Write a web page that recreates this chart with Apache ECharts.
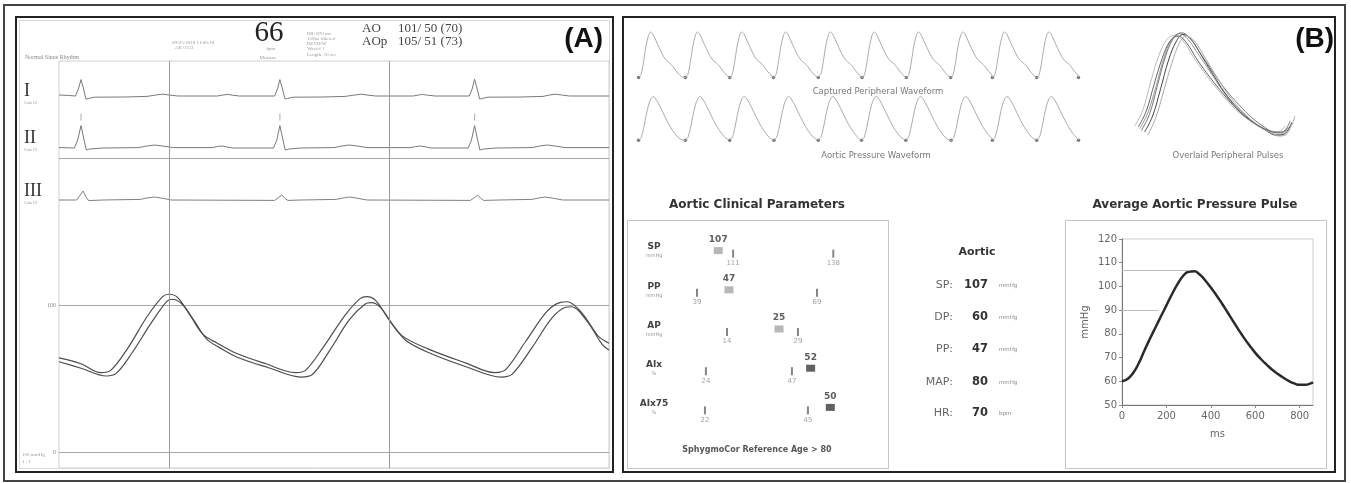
<!DOCTYPE html>
<html>
<head>
<meta charset="utf-8">
<title>Aortic pressure report</title>
<script src="https://cdn.jsdelivr.net/npm/echarts/dist/echarts.min.js"></script>
<style>
    html, body { margin: 0; padding: 0; background: #fff; }
    #report { width: 1351px; height: 483px; }
</style>
</head>
<body>
<div id="report"></div>
<script>
    // ---- panel A: ECG leads, [time s, mV] ----
    var leadI = [[0, 0.05], [0.04, 0.03], [0.075, 0], [0.088, 0.35], [0.1, 0.82], [0.112, 0.35], [0.122, -0.15], [0.135, -0.12], [0.16, -0.06], [0.3, -0.05], [0.4, -0.02], [0.44, 0.05], [0.47, 0.09], [0.5, 0.05], [0.54, 0], [0.72, 0], [0.745, 0.05], [0.767, 0.08], [0.79, 0.04], [0.82, 0], [0.98, 0], [0.993, 0.35], [1.004, 0.82], [1.016, 0.35], [1.027, -0.15], [1.04, -0.12], [1.065, -0.06], [1.2, -0.05], [1.3, -0.02], [1.345, 0.05], [1.373, 0.09], [1.4, 0.05], [1.44, 0], [1.61, 0], [1.635, 0.05], [1.652, 0.08], [1.675, 0.04], [1.71, 0], [1.865, 0], [1.878, 0.35], [1.889, 0.84], [1.901, 0.35], [1.912, -0.15], [1.925, -0.12], [1.95, -0.06], [2.1, -0.05], [2.2, -0.02], [2.23, 0.05], [2.256, 0.09], [2.285, 0.05], [2.32, 0], [2.5, 0]];
    var leadII = [[0, 0.02], [0.07, 0], [0.085, 0.4], [0.1, 1.12], [0.114, 0.4], [0.124, -0.1], [0.14, -0.05], [0.2, 0], [0.36, 0.02], [0.4, 0.1], [0.434, 0.15], [0.47, 0.1], [0.52, 0.02], [0.7, 0.02], [0.72, 0.08], [0.74, 0.1], [0.76, 0.06], [0.79, 0], [0.975, 0], [0.99, 0.4], [1.004, 1.12], [1.018, 0.4], [1.028, -0.1], [1.045, -0.05], [1.1, 0], [1.25, 0.02], [1.285, 0.1], [1.318, 0.15], [1.355, 0.1], [1.4, 0.02], [1.6, 0.02], [1.62, 0.07], [1.643, 0.1], [1.665, 0.06], [1.69, 0], [1.86, 0], [1.875, 0.4], [1.889, 1.12], [1.903, 0.4], [1.913, -0.1], [1.93, -0.05], [1.99, 0], [2.15, 0.02], [2.185, 0.1], [2.22, 0.15], [2.255, 0.1], [2.3, 0.02], [2.5, 0.02]];
    var leadIII = [[0, 0], [0.08, 0], [0.095, 0.22], [0.109, 0.45], [0.123, 0.15], [0.135, -0.03], [0.2, 0], [0.37, 0.03], [0.4, 0.1], [0.434, 0.15], [0.47, 0.09], [0.51, 0], [0.98, -0.02], [0.998, 0.12], [1.013, 0.25], [1.027, 0.08], [1.04, -0.02], [1.1, 0], [1.26, 0.03], [1.29, 0.1], [1.32, 0.15], [1.355, 0.09], [1.4, 0], [1.87, -0.02], [1.888, 0.12], [1.903, 0.25], [1.917, 0.08], [1.93, -0.02], [2.0, 0], [2.15, 0.03], [2.18, 0.1], [2.21, 0.15], [2.245, 0.09], [2.29, 0], [2.5, 0]];
    var rPeakTimes = [0.1, 1.004, 1.889];
    var ecgGridTimes = [0.5, 1.5];

    // ---- panel A: pressure traces, [time s, mmHg] ----
    var aoPressure = [[0, 61.4], [0.1, 57], [0.215, 51.7], [0.26, 53.5], [0.33, 67], [0.42, 88], [0.49, 102.5], [0.515, 103.9], [0.56, 100.5], [0.62, 88], [0.67, 77], [0.73, 71], [0.81, 64.5], [0.95, 57.5], [1.1, 51], [1.15, 52.5], [1.23, 69], [1.32, 90], [1.39, 100.5], [1.42, 101.6], [1.46, 98.5], [1.52, 86], [1.58, 75.5], [1.69, 67], [1.86, 57.5], [2.01, 51], [2.06, 53], [2.15, 71], [2.24, 91], [2.3, 98.3], [2.33, 98.8], [2.4, 89], [2.47, 73], [2.5, 69.4]];
    var aopPressure = [[0, 64], [0.1, 60], [0.19, 54], [0.235, 55.5], [0.31, 70], [0.4, 92], [0.47, 105.5], [0.5, 107.3], [0.54, 105], [0.6, 92], [0.655, 80], [0.72, 74], [0.8, 67.5], [0.94, 60], [1.075, 54], [1.12, 55.5], [1.2, 71], [1.3, 93], [1.37, 104.5], [1.4, 105.7], [1.44, 103], [1.5, 90], [1.56, 79], [1.68, 70], [1.85, 60.5], [1.98, 54], [2.03, 56], [2.12, 75], [2.22, 96], [2.28, 101.8], [2.31, 102.2], [2.38, 94], [2.45, 79], [2.5, 74]];

    // ---- panel B: captured waveforms, beat shape [offset s, mmHg] and beat feet [s] ----
    var peripheralBeat = [[0, 58], [0.05, 62], [0.1, 78], [0.15, 98], [0.2, 111], [0.24, 115], [0.28, 113], [0.34, 105], [0.42, 94], [0.5, 84], [0.56, 79], [0.62, 76], [0.68, 72], [0.75, 66], [0.82, 61], [0.88, 58.5], [0.95, 58]];
    var peripheralFeet = [0.17, 1.1, 1.98, 2.85, 3.74, 4.61, 5.49, 6.37, 7.2, 8.08, 8.91];
    var aorticBeat = [[0, 59], [0.05, 62], [0.1, 72], [0.15, 86], [0.2, 98], [0.25, 105], [0.29, 107], [0.33, 105.5], [0.4, 99], [0.48, 90], [0.56, 81], [0.64, 73], [0.72, 66.5], [0.8, 61.5], [0.87, 59.5], [0.95, 59]];
    var aorticFeet = [0.17, 1.1, 1.98, 2.86, 3.74, 4.6, 5.48, 6.38, 7.2, 8.08, 8.91];
    var overlaidPulses = [
        [[0.03, 62], [0.08, 72], [0.13, 88], [0.18, 106], [0.23, 118], [0.28, 121.5], [0.33, 118], [0.4, 108], [0.48, 96], [0.56, 84], [0.64, 74], [0.72, 67], [0.8, 62], [0.86, 59], [0.91, 58.5], [0.96, 63]],
        [[0.06, 60], [0.11, 70], [0.16, 87], [0.21, 105], [0.26, 117], [0.3, 121], [0.35, 118], [0.42, 107], [0.5, 94], [0.58, 82], [0.66, 73], [0.74, 66], [0.82, 61], [0.88, 58], [0.93, 58.5], [0.98, 66]],
        [[0, 64], [0.05, 74], [0.1, 92], [0.15, 108], [0.2, 118], [0.25, 120.5], [0.3, 117], [0.37, 106], [0.45, 95], [0.53, 85], [0.61, 76], [0.69, 69], [0.77, 64], [0.84, 61], [0.89, 60], [0.94, 64]],
        [[0.04, 61], [0.09, 71], [0.14, 89], [0.19, 107], [0.24, 118.5], [0.29, 122], [0.34, 119], [0.41, 109], [0.49, 97], [0.57, 86], [0.65, 77], [0.73, 69], [0.81, 63], [0.87, 60], [0.92, 60], [0.97, 67]],
        [[0.08, 58], [0.13, 69], [0.18, 86], [0.23, 103], [0.28, 116], [0.32, 120], [0.37, 117], [0.44, 106], [0.52, 93], [0.6, 81], [0.68, 72], [0.76, 65], [0.84, 60], [0.9, 57.5], [0.95, 59], [1.0, 70]],
        [[0.02, 63], [0.07, 73], [0.12, 90], [0.17, 106], [0.22, 117], [0.27, 120], [0.32, 116], [0.39, 105], [0.47, 94], [0.55, 84], [0.63, 75], [0.71, 68], [0.79, 63], [0.86, 60], [0.91, 59.5], [0.95, 62]]
    ];

    // ---- panel B: clinical parameters ----
    var paramNames = ['SP', 'PP', 'AP', 'AIx', 'AIx75'];
    var paramUnits = ['mmHg', 'mmHg', 'mmHg', '%', '%'];
    var patientValues = [107, 47, 25, 52, 50];
    var refLow = [111, 39, 14, 24, 22];
    var refHigh = [138, 69, 29, 47, 45];

    var aorticLabels = ['SP:', 'DP:', 'PP:', 'MAP:', 'HR:'];
    var aorticValues = [107, 60, 47, 80, 70];
    var aorticUnits = ['mmHg', 'mmHg', 'mmHg', 'mmHg', 'bpm'];

    // ---- panel B: average aortic pressure pulse ----
    var pulseMs = [0, 25, 50, 75, 100, 125, 150, 175, 200, 225, 250, 275, 300, 325, 350, 375, 400, 425, 450, 475, 500, 525, 550, 575, 600, 625, 650, 675, 700, 725, 750, 775, 800, 825, 850, 860];
    var pulseMmHg = [60, 61, 63.5, 67.5, 72.8, 77.8, 82.6, 87.3, 92, 96.7, 101, 104.4, 106.2, 106.4, 105, 102.5, 99.5, 96.3, 92.8, 89.1, 85.4, 81.7, 78.2, 75, 72, 69.4, 67.1, 65, 63.2, 61.6, 60.2, 59.1, 58.5, 58.5, 59.1, 59.6];
    var pulseGuides = [[305, 107], [165, 90]];

    var sans = 'DejaVu Sans';
    var serif = 'Liberation Serif';

    function beatTrace (beat, feet) {
        var out = [];
        for (var i = 0; i < feet.length - 1; i++) {
            var span = feet[i + 1] - feet[i];
            beat.forEach(function (p) {
                if (p[0] < span) out.push([feet[i] + p[0], p[1]]);
            });
        }
        out.push([feet[feet.length - 1], beat[0][1]]);
        return out;
    }

    function txt (x, y, text, size, color, align, weight, family) {
        return {
            type: 'text', x: x, y: y, silent: true, z: 20,
            style: {
                text: text, fill: color, fontSize: size,
                fontWeight: weight || 'normal', fontFamily: family || sans,
                align: align || 'left', textAlign: align || 'left',
                verticalAlign: 'middle', textVerticalAlign: 'middle'
            }
        };
    }

    function box (x, y, w, h, color, width) {
        return {
            type: 'rect', silent: true, z: 5,
            shape: { x: x, y: y, width: w, height: h },
            style: { fill: 'none', stroke: color, lineWidth: width }
        };
    }

    function hidden (grid, min, max) {
        return { type: 'value', gridIndex: grid, min: min, max: max, show: false };
    }

    var ecgLeft = 59, ecgRight = 1351 - 609;

    var grids = [
        { left: ecgLeft, right: ecgRight, top: 61, height: 407, show: true, borderColor: '#cfcfcf', borderWidth: 1 },
        { left: ecgLeft, right: ecgRight, top: 61, height: 48 },
        { left: ecgLeft, right: ecgRight, top: 109, height: 49 },
        { left: ecgLeft, right: ecgRight, top: 158, height: 80 },
        { left: ecgLeft, right: ecgRight, top: 158, height: 294 },
        { left: 630, right: 268, top: 28, height: 52 },
        { left: 630, right: 268, top: 92, height: 52 },
        { left: 1135, width: 160, top: 28, height: 112 },
        { left: 670, width: 193, top: 231, height: 196 },
        { left: 1122, right: 38, top: 239, bottom: 78, show: true, borderColor: '#cccccc', borderWidth: 1 }
    ];

    var paramRanges = [[94, 146], [32.25, 80.5], [1.95, 42.75], [14.4, 66], [14.2, 57.3]];

    var xAxes = [
        hidden(0, 0, 2.5), hidden(1, 0, 2.5), hidden(2, 0, 2.5), hidden(3, 0, 2.5), hidden(4, 0, 2.5),
        hidden(5, 0, 9), hidden(6, 0, 9), hidden(7, 0, 1)
    ];
    paramRanges.forEach(function (r) { xAxes.push(hidden(8, r[0], r[1])); });
    xAxes.push({
        type: 'value', gridIndex: 9, min: 0, max: 860, interval: 200,
        axisLine: { lineStyle: { color: '#777' } },
        axisTick: { length: 3, lineStyle: { color: '#888' } },
        axisLabel: { color: '#666', fontSize: 10, fontFamily: sans, margin: 6, showMaxLabel: false },
        splitLine: { show: false },
        name: 'ms', nameLocation: 'middle', nameGap: 24,
        nameTextStyle: { color: '#666', fontSize: 10, fontFamily: sans }
    });

    var yAxes = [
        hidden(0, 0, 1), hidden(1, -0.65, 1.75), hidden(2, -0.5, 1.95), hidden(3, -1.9, 2.1),
        {
            type: 'value', gridIndex: 4, min: 0, max: 200, interval: 100,
            axisLine: { show: false }, axisTick: { show: false },
            axisLabel: { fontSize: 6, color: '#888', fontFamily: serif, margin: 3, formatter: function (v) { return v === 200 ? '' : v; } },
            splitLine: { lineStyle: { color: '#a8a8a8', width: 1 } }
        },
        hidden(5, 55, 120), hidden(6, 55, 112), hidden(7, 55, 125),
        {
            type: 'category', gridIndex: 8, data: paramNames, inverse: true,
            axisLine: { show: false }, axisTick: { show: false }, splitLine: { show: false },
            axisLabel: {
                margin: 16, align: 'center',
                formatter: function (v, i) { return '{n|' + v + '}\n{u|' + paramUnits[i] + '}'; },
                rich: {
                    n: { fontSize: 9, fontWeight: 'bold', color: '#444', fontFamily: sans, lineHeight: 11 },
                    u: { fontSize: 5, color: '#999', fontFamily: sans, lineHeight: 7 }
                }
            }
        },
        {
            type: 'value', gridIndex: 9, min: 50, max: 120, interval: 10,
            axisLine: { show: true, lineStyle: { color: '#777' } },
            axisTick: { show: true, length: 3, lineStyle: { color: '#888' } },
            axisLabel: { color: '#666', fontSize: 10, fontFamily: sans, margin: 5 },
            splitLine: { show: false },
            name: 'mmHg', nameLocation: 'middle', nameGap: 32, nameRotate: 90,
            nameTextStyle: { color: '#666', fontSize: 10, fontFamily: sans }
        }
    ];

    function trace (axis, data, color, width, smooth) {
        return {
            type: 'line', xAxisIndex: axis, yAxisIndex: axis, data: data, silent: true,
            showSymbol: false, smooth: smooth || false,
            lineStyle: { color: color, width: width }
        };
    }

    var series = [
        {
            type: 'line', xAxisIndex: 0, yAxisIndex: 0, data: [], silent: true,
            markLine: {
                silent: true, symbol: ['none', 'none'], label: { show: false },
                lineStyle: { color: '#9a9a9a', width: 1, type: 'solid' },
                data: ecgGridTimes.map(function (t) { return { xAxis: t }; })
            }
        },
        trace(1, leadI, '#7a7a7a', 1),
        trace(2, leadII, '#7a7a7a', 1),
        trace(3, leadIII, '#808080', 1),
        {
            type: 'scatter', xAxisIndex: 2, yAxisIndex: 2, silent: true,
            data: rPeakTimes.map(function (t) { return [t, 1.55]; }),
            symbol: 'rect', symbolSize: [1, 7], itemStyle: { color: '#999' }
        },
        trace(4, aopPressure, '#4d4d4d', 1.2, 0.35),
        trace(4, aoPressure, '#4d4d4d', 1.2, 0.35),
        trace(5, beatTrace(peripheralBeat, peripheralFeet), '#ababab', 1, 0.3),
        {
            type: 'scatter', xAxisIndex: 5, yAxisIndex: 5, silent: true,
            data: peripheralFeet.map(function (t) { return [t, peripheralBeat[0][1]]; }),
            symbolSize: 3.5, itemStyle: { color: '#555' }
        },
        trace(6, beatTrace(aorticBeat, aorticFeet), '#ababab', 1, 0.3),
        {
            type: 'scatter', xAxisIndex: 6, yAxisIndex: 6, silent: true,
            data: aorticFeet.map(function (t) { return [t, aorticBeat[0][1]]; }),
            symbolSize: 3.5, itemStyle: { color: '#555' }
        }
    ];

    var overlayColors = ['#9a9a9a', '#444444', '#bbbbbb', '#777777', '#aaaaaa', '#666666'];
    overlaidPulses.forEach(function (p, i) {
        series.push(trace(7, p, overlayColors[i], 1, 0.4));
    });

    paramNames.forEach(function (name, i) {
        series.push({
            type: 'scatter', xAxisIndex: 8 + i, yAxisIndex: 8, silent: true,
            data: [[refLow[i], i], [refHigh[i], i]],
            symbol: 'rect', symbolSize: [2, 8], symbolOffset: [0, 3],
            itemStyle: { color: '#666' },
            label: {
                show: true, position: 'bottom', distance: 2, fontSize: 7, color: '#888', fontFamily: sans,
                formatter: function (p) { return p.value[0]; }
            }
        });
        series.push({
            type: 'scatter', xAxisIndex: 8 + i, yAxisIndex: 8, silent: true,
            data: [[patientValues[i], i]],
            symbol: 'rect', symbolSize: [9, 7],
            itemStyle: { color: patientValues[i] > refHigh[i] ? '#3a3a3a' : '#a5a5a5' },
            label: {
                show: true, position: 'top', distance: 3, fontSize: 9, fontWeight: 'bold', color: '#333', fontFamily: sans,
                formatter: function (p) { return p.value[0]; }
            }
        });
    });

    series.push({
        type: 'line', xAxisIndex: 13, yAxisIndex: 9, silent: true,
        data: pulseMs.map(function (t, i) { return [t, pulseMmHg[i]]; }),
        showSymbol: false, smooth: true,
        lineStyle: { color: '#2a2a2a', width: 2.5 },
        markLine: {
            silent: true, symbol: ['none', 'none'], label: { show: false },
            lineStyle: { color: '#bdbdbd', width: 1, type: 'solid' },
            data: pulseGuides.map(function (g) { return [{ coord: [0, g[1]] }, { coord: [g[0], g[1]] }]; })
        }
    });

    var elements = [
        box(4, 5, 1341, 476, '#444', 2),
        box(16, 17, 597, 455, '#222', 2),
        box(623, 17, 712, 455, '#222', 2),
        box(19.5, 20.5, 590, 448, '#d8d8d8', 1),
        box(627.5, 220.5, 261, 248, '#c4c4c4', 1),
        box(1065.5, 220.5, 261, 248, '#c4c4c4', 1),

        txt(603, 39, '(A)', 28, '#111', 'right', 'bold', 'Liberation Sans'),
        txt(1334, 39, '(B)', 28, '#111', 'right', 'bold', 'Liberation Sans'),

        txt(25, 57, 'Normal Sinus Rhythm', 6, '#888', 'left', 'normal', serif),
        txt(172, 43, '09-25-2018 11:00:18', 5, '#999', 'left', 'normal', serif),
        txt(175, 48, 'AR 0153', 5, '#999', 'left', 'normal', serif),
        txt(269, 33, '66', 29, '#222', 'center', 'normal', serif),
        txt(271, 49, 'bpm', 5, '#999', 'center', 'normal', serif),
        txt(268, 58, 'Measure', 5, '#999', 'center', 'normal', serif),
        txt(307, 34, 'RR: 870 ms', 5, '#999', 'left', 'normal', serif),
        txt(307, 39, '150hz filtered', 5, '#999', 'left', 'normal', serif),
        txt(307, 44, 'REVIEW', 5, '#999', 'left', 'normal', serif),
        txt(307, 49, 'Wave# 1', 5, '#999', 'left', 'normal', serif),
        txt(307, 55, 'Length: 10 sec', 5, '#999', 'left', 'normal', serif),
        txt(362, 29, 'AO', 13, '#444', 'left', 'normal', serif),
        txt(398, 29, '101/ 50 (70)', 13, '#444', 'left', 'normal', serif),
        txt(362, 42, 'AOp', 13, '#444', 'left', 'normal', serif),
        txt(398, 42, '105/ 51 (73)', 13, '#444', 'left', 'normal', serif),

        txt(24, 91, 'I', 18, '#333', 'left', 'normal', serif),
        txt(24, 103, 'Gain 10', 4, '#999', 'left', 'normal', serif),
        txt(24, 138, 'II', 18, '#333', 'left', 'normal', serif),
        txt(24, 150, 'Gain 10', 4, '#999', 'left', 'normal', serif),
        txt(24, 191, 'III', 18, '#333', 'left', 'normal', serif),
        txt(24, 203, 'Gain 10', 4, '#999', 'left', 'normal', serif),
        txt(22, 455, '100 mmHg', 5, '#999', 'left', 'normal', serif),
        txt(22, 462, '1 : 1', 5, '#999', 'left', 'normal', serif),

        txt(878, 92, 'Captured Peripheral Waveform', 8.5, '#777', 'center'),
        txt(876, 156, 'Aortic Pressure Waveform', 8.5, '#777', 'center'),
        txt(1228, 156, 'Overlaid Peripheral Pulses', 8.5, '#777', 'center'),

        txt(757, 205, 'Aortic Clinical Parameters', 12, '#333', 'center', 'bold'),
        txt(757, 450, 'SphygmoCor Reference Age > 80', 8, '#555', 'center', 'bold'),
        txt(1195, 205, 'Average Aortic Pressure Pulse', 12, '#333', 'center', 'bold'),
        txt(977, 252, 'Aortic', 11, '#333', 'center', 'bold')
    ];

    var rowY = [285, 317, 349, 382, 413];
    aorticLabels.forEach(function (l, i) {
        elements.push(txt(953, rowY[i], l, 11, '#666', 'right'));
        elements.push(txt(988, rowY[i], String(aorticValues[i]), 11.5, '#333', 'right', 'bold'));
        elements.push(txt(999, rowY[i] + 1, aorticUnits[i], 5.5, '#888', 'left'));
    });

    var option = {
        backgroundColor: '#ffffff',
        animation: false,
        grid: grids,
        xAxis: xAxes,
        yAxis: yAxes,
        series: series,
        graphic: { elements: elements }
    };

    var myChart = echarts.init(document.getElementById('report'));
    myChart.setOption(option);
</script>
</body>
</html>
